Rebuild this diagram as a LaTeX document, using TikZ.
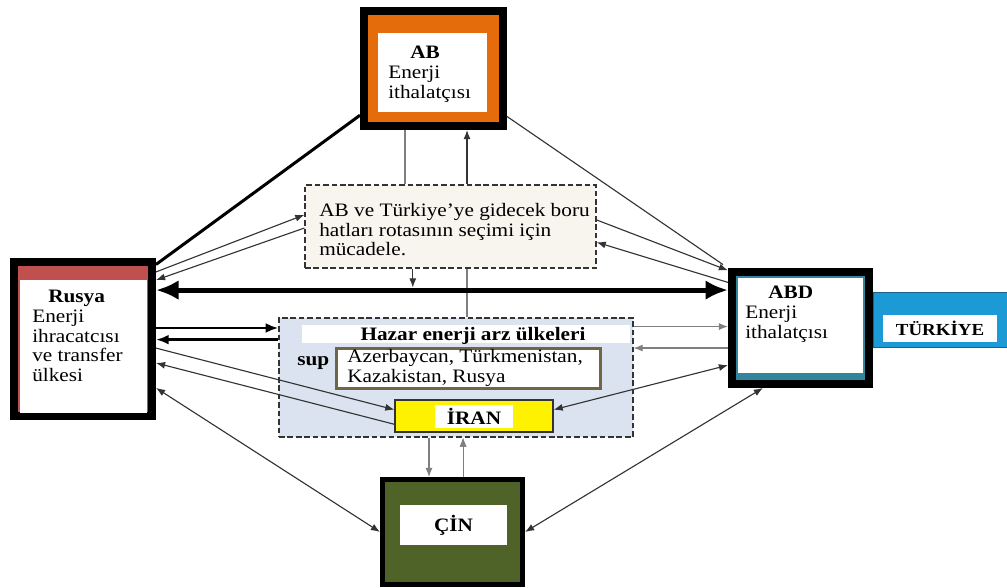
\documentclass[tikz,border=0pt]{standalone}
\usepackage{fontspec}
\setmainfont[FakeStretch=1.12]{Liberation Serif}
\usetikzlibrary{arrows.meta,calc}
\newlength{\pxu}\setlength{\pxu}{0.025cm}
\definecolor{abturuncu}{HTML}{E46C0A}
\definecolor{rusyakirmizi}{HTML}{C0504D}
\definecolor{abdmavi}{HTML}{31859C}
\definecolor{turkiyemavi}{HTML}{1B9AD6}
\definecolor{turkiyekenar}{HTML}{1F5F8B}
\definecolor{cinyesil}{HTML}{4F6228}
\definecolor{hazarmavi}{HTML}{DAE3EF}
\definecolor{krem}{HTML}{F7F5EE}
\definecolor{zeytin}{HTML}{6F6648}
\definecolor{koyugri}{HTML}{333333}
\definecolor{acikgri}{HTML}{7F7F7F}
\tikzset{
  yazi/.style={font=\fontsize{13.5}{14}\selectfont, inner sep=0pt},
  kalin/.style={font=\fontsize{13.5}{14}\selectfont\bfseries, inner sep=0pt},
  kutu/.style={draw=black, line width=8\pxu, inner sep=0pt},
  beyaz/.style={fill=white, inner sep=0pt},
  kesikli/.style={draw=koyugri, line width=1.2\pxu, dash pattern=on 4pt off 2pt, inner sep=0pt},
  ok/.style={draw=koyugri, line width=0.8pt, -{Latex[length=6.5pt,width=5pt]}},
  ciftok/.style={draw=koyugri, line width=0.8pt, {Latex[length=6.5pt,width=5pt]}-{Latex[length=6.5pt,width=5pt]}},
  griok/.style={ok, draw=acikgri},
  ortaok/.style={draw=black, line width=1.8pt, -{Latex[length=9pt,width=7pt]}},
}
\begin{document}
\begin{tikzpicture}[x=0.025cm,y=-0.025cm]
\useasboundingbox (0,0) rectangle (1007,587);

\node[kutu, fill=abturuncu, minimum width=139\pxu, minimum height=115\pxu] (ab) at (433.5,68.5) {};
\node[beyaz, minimum width=109\pxu, minimum height=79\pxu] (abic) at (432.5,72.5) {};
\node[yazi, align=left, anchor=north west] (abyazi) at (388,46) {\hspace*{22\pxu}\textbf{AB}\\Enerji\\ithalatçısı};

\node[kutu, fill=rusyakirmizi, minimum width=138\pxu, minimum height=154\pxu] (rus) at (83,339) {};
\node[beyaz, minimum width=127\pxu, minimum height=133\pxu] (rusic) at (83.5,346.5) {};
\node[yazi, align=left, anchor=north west] (rusyazi) at (32,290) {\hspace*{16\pxu}\textbf{Rusya}\\Enerji\\ihracatcısı\\ve transfer\\ülkesi};

\node[draw=turkiyekenar, line width=1\pxu, fill=turkiyemavi, minimum width=134\pxu, minimum height=55\pxu, inner sep=0pt] (tr) at (940,319.5) {};
\node[beyaz, font=\fontsize{12}{13}\selectfont\bfseries, minimum width=114\pxu, minimum height=27\pxu] (tryazi) at (940,328.5) {TÜRKİYE};

\node[kutu, fill=abdmavi, minimum width=137\pxu, minimum height=112\pxu] (abd) at (800.5,328) {};
\node[beyaz, minimum width=125\pxu, minimum height=95\pxu] (abdic) at (800.5,325.5) {};
\node[yazi, align=left, anchor=north west] (abdyazi) at (745,286) {\hspace*{23\pxu}\textbf{ABD}\\Enerji\\ithalatçısı};

\node[kutu, line width=5\pxu, fill=cinyesil, minimum width=140\pxu, minimum height=105\pxu] (cin) at (452.5,532) {};
\node[beyaz, kalin, minimum width=107\pxu, minimum height=40\pxu] (cinyazi) at (453.5,525) {ÇİN};

\node[kesikli, fill=krem, minimum width=291\pxu, minimum height=83\pxu] (muc) at (450.5,226.5) {};
\node[yazi, align=left, anchor=north west] (mucyazi) at (319,203) {AB ve Türkiye'ye gidecek boru\\hatları rotasının seçimi için\\mücadele.};

\node[kesikli, fill=hazarmavi, minimum width=354\pxu, minimum height=119\pxu] (hazar) at (456,377.5) {};
\node[beyaz, minimum width=328\pxu, minimum height=18\pxu] (hazarbant) at (466,334) {};
\node[kalin] (hazarbaslik) at (473,335.5) {Hazar enerji arz ülkeleri};
\node[kalin, anchor=base west] (sup) at (297,365) {sup};
\node[draw=zeytin, line width=3\pxu, fill=white, minimum width=264\pxu, minimum height=40\pxu, inner sep=0pt] (ulkeler) at (468.5,368.5) {};
\node[yazi, align=left, anchor=north west] (ulkeyazi) at (347,349) {Azerbaycan, Türkmenistan,\\Kazakistan, Rusya};

\node[draw=koyugri, line width=1.2\pxu, fill=yellow, minimum width=158\pxu, minimum height=32\pxu, inner sep=0pt] (iran) at (474,416) {};
\node[beyaz, kalin, minimum width=78\pxu, minimum height=23\pxu] (iranyazi) at (474,416.5) {İRAN};

\draw[line width=3\pxu] ($(ab.north west)!.88!(ab.south west)$) -- ($(rus.north east)!.04!(rus.south east)$);
\draw[draw=koyugri, line width=0.8pt, shorten >=6\pxu] ($(ab.north east)!.89!(ab.south east)$) -- (abd.north west);

\draw[draw=acikgri, line width=0.8pt] ($(ab.south west)!.306!(ab.south east)$) coordinate (d1) -- (d1 |- muc.north);
\draw[draw=acikgri, line width=0.8pt] ($(hazar.north west)!.531!(hazar.north east)$) coordinate (d2) -- (d2 |- muc.south);
\draw[ok] (d2 |- muc.north) -- (d2 |- ab.south);

\draw[line width=5\pxu, {Latex[length=16pt,width=14pt]}-{Latex[length=16pt,width=14pt]}] ($(rus.north east)!.198!(rus.south east)$) coordinate (k1) -- (k1 -| abd.west);
\draw[griok, draw=koyugri, shorten >=1.8pt] ($(muc.south west)!.371!(muc.south east)$) coordinate (d3) -- (d3 |- k1);

\draw[ok] ($(rus.north east)!.086!(rus.south east)$) -- ($(muc.north west)!.361!(muc.south west)$);
\draw[ok] ($(muc.north west)!.518!(muc.south west)$) -- ($(rus.north east)!.136!(rus.south east)$);
\draw[ok] ($(muc.north east)!.422!(muc.south east)$) -- ($(abd.north west)!.02!(abd.south west)$);
\draw[ok] ($(abd.north west)!.12!(abd.south west)$) -- ($(muc.north east)!.687!(muc.south east)$);

\draw[ortaok] ($(rus.north east)!.432!(rus.south east)$) coordinate (r1) -- (r1 -| hazar.west);
\draw[ortaok] ($(hazar.north west)!.185!(hazar.south west)$) coordinate (h1) -- (h1 -| rus.east);

\draw[ok] ($(rus.north east)!.556!(rus.south east)$) -- ($(iran.north west)!.31!(iran.south west)$);
\draw[ok] ($(iran.north west)!.75!(iran.south west)$) -- ($(rus.north east)!.648!(rus.south east)$);
\draw[ciftok] ($(rus.north east)!.802!(rus.south east)$) -- (cin.west);

\draw[griok] ($(hazar.north east)!.076!(hazar.south east)$) coordinate (h2) -- (h2 -| abd.west);
\draw[griok] ($(abd.north west)!.667!(abd.south west)$) coordinate (a2) -- (a2 -| hazar.east);
\draw[ciftok] ($(iran.north east)!.31!(iran.south east)$) -- ($(abd.north west)!.81!(abd.south west)$);
\draw[ciftok] ($(abd.south west)!.241!(abd.south east)$) -- (cin.east);

\draw[griok] ($(hazar.south west)!.424!(hazar.south east)$) coordinate (h3) -- (h3 |- cin.north);
\draw[griok] ($(hazar.south west)!.52!(hazar.south east)$) coordinate (h4);
\draw[griok] (h4 |- cin.north) -- (h4);
\end{tikzpicture}
\end{document}
